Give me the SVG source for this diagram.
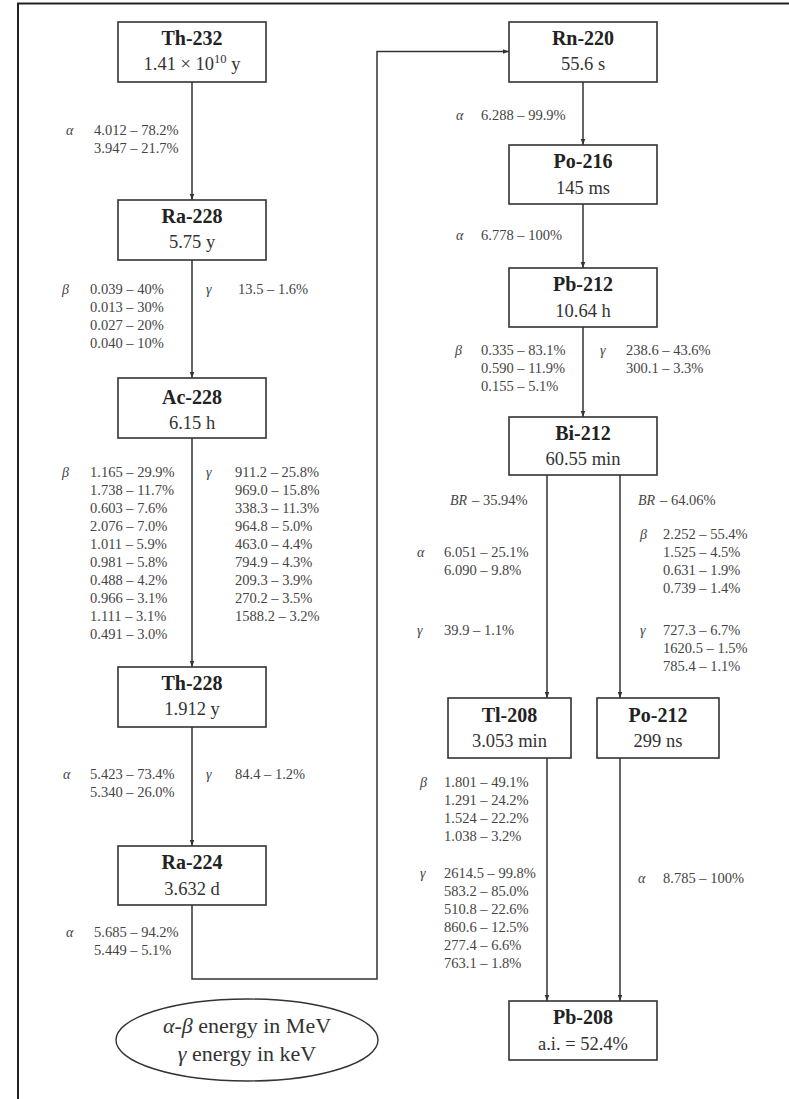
<svg xmlns="http://www.w3.org/2000/svg" width="789" height="1099" viewBox="0 0 789 1099">
<style>
.box{fill:#fff;stroke:#333;stroke-width:1.6}
.ttl{font-family:"Liberation Serif",serif;font-weight:bold;font-size:20px;fill:#222;text-anchor:middle}
.hl{font-family:"Liberation Serif",serif;font-size:18.5px;fill:#333;text-anchor:middle}
.lb{font-family:"Liberation Serif",serif;font-size:14.5px;fill:#444}
.gk{font-family:"Liberation Serif",serif;font-style:italic;font-size:14px;fill:#444}
.con{fill:none;stroke:#333;stroke-width:1.5}
.leg{font-family:"Liberation Serif",serif;font-size:22px;fill:#333;text-anchor:middle}
</style>
<defs>
<marker id="ah" viewBox="0 0 8 8" refX="8" refY="4" markerWidth="6" markerHeight="6" orient="auto" markerUnits="userSpaceOnUse">
<path d="M0,1 L8,4 L0,7 z" fill="#333"/>
</marker>
</defs>
<rect width="789" height="1099" fill="#fff"/>
<path d="M18,1099 V3.5 H789" fill="none" stroke="#222" stroke-width="2"/>

<g id="connectors">
<path class="con" d="M192,82 V200" marker-end="url(#ah)"/>
<path class="con" d="M192,260 V378" marker-end="url(#ah)"/>
<path class="con" d="M192,438 V667" marker-end="url(#ah)"/>
<path class="con" d="M192,727 V846" marker-end="url(#ah)"/>
<path class="con" d="M192,905 V979 H377 V51.5 H509" marker-end="url(#ah)"/>
<path class="con" d="M583,82 V145" marker-end="url(#ah)"/>
<path class="con" d="M583,204 V268" marker-end="url(#ah)"/>
<path class="con" d="M583,327 V417" marker-end="url(#ah)"/>
<path class="con" d="M547,475 V698" marker-end="url(#ah)"/>
<path class="con" d="M620,475 V698" marker-end="url(#ah)"/>
<path class="con" d="M547,758 V1001" marker-end="url(#ah)"/>
<path class="con" d="M620,758 V1001" marker-end="url(#ah)"/>
</g>

<g id="th232">
<rect class="box" x="118" y="22" width="148" height="60"/>
<text class="ttl" x="192" y="45">Th-232</text>
<text class="hl" x="192" y="70">1.41 × 10<tspan font-size="12.5" dy="-7">10</tspan><tspan dy="7"> y</tspan></text>
</g>
<g id="ra228">
<rect class="box" x="118" y="200" width="148" height="60"/>
<text class="ttl" x="192" y="223">Ra-228</text>
<text class="hl" x="192" y="248">5.75 y</text>
</g>
<g id="ac228">
<rect class="box" x="118" y="378" width="148" height="60"/>
<text class="ttl" x="192" y="404">Ac-228</text>
<text class="hl" x="192" y="429">6.15 h</text>
</g>
<g id="th228">
<rect class="box" x="118" y="667" width="148" height="60"/>
<text class="ttl" x="192" y="690">Th-228</text>
<text class="hl" x="192" y="715">1.912 y</text>
</g>
<g id="ra224">
<rect class="box" x="118" y="846" width="148" height="59"/>
<text class="ttl" x="192" y="869">Ra-224</text>
<text class="hl" x="192" y="895">3.632 d</text>
</g>
<g id="rn220">
<rect class="box" x="509" y="22" width="148" height="60"/>
<text class="ttl" x="583" y="45">Rn-220</text>
<text class="hl" x="583" y="70">55.6 s</text>
</g>
<g id="po216">
<rect class="box" x="509" y="145" width="148" height="59"/>
<text class="ttl" x="583" y="168">Po-216</text>
<text class="hl" x="583" y="194">145 ms</text>
</g>
<g id="pb212">
<rect class="box" x="509" y="268" width="148" height="59"/>
<text class="ttl" x="583" y="291">Pb-212</text>
<text class="hl" x="583" y="317">10.64 h</text>
</g>
<g id="bi212">
<rect class="box" x="509" y="417" width="148" height="58"/>
<text class="ttl" x="583" y="440">Bi-212</text>
<text class="hl" x="583" y="465">60.55 min</text>
</g>
<g id="tl208">
<rect class="box" x="448" y="698" width="123" height="60"/>
<text class="ttl" x="509.5" y="722">Tl-208</text>
<text class="hl" x="509.5" y="747">3.053 min</text>
</g>
<g id="po212">
<rect class="box" x="597" y="698" width="122" height="60"/>
<text class="ttl" x="658" y="722">Po-212</text>
<text class="hl" x="658" y="747">299 ns</text>
</g>
<g id="pb208">
<rect class="box" x="509" y="1001" width="148" height="59"/>
<text class="ttl" x="583" y="1024">Pb-208</text>
<text class="hl" x="583" y="1050">a.i. = 52.4%</text>
</g>

<g id="labels">
<text class="gk" x="66" y="135">α</text>
<text class="lb" x="94" y="135">4.012 – 78.2%</text>
<text class="lb" x="94" y="153">3.947 – 21.7%</text>

<text class="gk" x="62" y="294">β</text>
<text class="lb" x="90" y="294">0.039 – 40%</text>
<text class="lb" x="90" y="312">0.013 – 30%</text>
<text class="lb" x="90" y="330">0.027 – 20%</text>
<text class="lb" x="90" y="348">0.040 – 10%</text>
<text class="gk" x="206" y="294">γ</text>
<text class="lb" x="238" y="294">13.5 – 1.6%</text>

<text class="gk" x="62" y="477">β</text>
<text class="lb" x="90" y="477">1.165 – 29.9%</text>
<text class="lb" x="90" y="495">1.738 – 11.7%</text>
<text class="lb" x="90" y="513">0.603 – 7.6%</text>
<text class="lb" x="90" y="531">2.076 – 7.0%</text>
<text class="lb" x="90" y="549">1.011 – 5.9%</text>
<text class="lb" x="90" y="567">0.981 – 5.8%</text>
<text class="lb" x="90" y="585">0.488 – 4.2%</text>
<text class="lb" x="90" y="603">0.966 – 3.1%</text>
<text class="lb" x="90" y="621">1.111 – 3.1%</text>
<text class="lb" x="90" y="639">0.491 – 3.0%</text>
<text class="gk" x="206" y="477">γ</text>
<text class="lb" x="235" y="477">911.2 – 25.8%</text>
<text class="lb" x="235" y="495">969.0 – 15.8%</text>
<text class="lb" x="235" y="513">338.3 – 11.3%</text>
<text class="lb" x="235" y="531">964.8 – 5.0%</text>
<text class="lb" x="235" y="549">463.0 – 4.4%</text>
<text class="lb" x="235" y="567">794.9 – 4.3%</text>
<text class="lb" x="235" y="585">209.3 – 3.9%</text>
<text class="lb" x="235" y="603">270.2 – 3.5%</text>
<text class="lb" x="235" y="621">1588.2 – 3.2%</text>

<text class="gk" x="63" y="779">α</text>
<text class="lb" x="90" y="779">5.423 – 73.4%</text>
<text class="lb" x="90" y="797">5.340 – 26.0%</text>
<text class="gk" x="206" y="779">γ</text>
<text class="lb" x="235" y="779">84.4 – 1.2%</text>

<text class="gk" x="66" y="937">α</text>
<text class="lb" x="94" y="937">5.685 – 94.2%</text>
<text class="lb" x="94" y="955">5.449 – 5.1%</text>

<text class="gk" x="456" y="120">α</text>
<text class="lb" x="481" y="120">6.288 – 99.9%</text>

<text class="gk" x="456" y="240">α</text>
<text class="lb" x="481" y="240">6.778 – 100%</text>

<text class="gk" x="455" y="355">β</text>
<text class="lb" x="481" y="355">0.335 – 83.1%</text>
<text class="lb" x="481" y="373">0.590 – 11.9%</text>
<text class="lb" x="481" y="391">0.155 – 5.1%</text>
<text class="gk" x="600" y="355">γ</text>
<text class="lb" x="626" y="355">238.6 – 43.6%</text>
<text class="lb" x="626" y="373">300.1 – 3.3%</text>

<text class="gk" x="450" y="505">BR</text>
<text class="lb" x="472" y="505">– 35.94%</text>
<text class="gk" x="638" y="505">BR</text>
<text class="lb" x="660" y="505">– 64.06%</text>

<text class="gk" x="417" y="557">α</text>
<text class="lb" x="444" y="557">6.051 – 25.1%</text>
<text class="lb" x="444" y="575">6.090 – 9.8%</text>
<text class="gk" x="417" y="635">γ</text>
<text class="lb" x="444" y="635">39.9 – 1.1%</text>

<text class="gk" x="640" y="539">β</text>
<text class="lb" x="663" y="539">2.252 – 55.4%</text>
<text class="lb" x="663" y="557">1.525 – 4.5%</text>
<text class="lb" x="663" y="575">0.631 – 1.9%</text>
<text class="lb" x="663" y="593">0.739 – 1.4%</text>
<text class="gk" x="640" y="635">γ</text>
<text class="lb" x="663" y="635">727.3 – 6.7%</text>
<text class="lb" x="663" y="653">1620.5 – 1.5%</text>
<text class="lb" x="663" y="671">785.4 – 1.1%</text>

<text class="gk" x="420" y="787">β</text>
<text class="lb" x="444" y="787">1.801 – 49.1%</text>
<text class="lb" x="444" y="805">1.291 – 24.2%</text>
<text class="lb" x="444" y="823">1.524 – 22.2%</text>
<text class="lb" x="444" y="841">1.038 – 3.2%</text>
<text class="gk" x="420" y="878">γ</text>
<text class="lb" x="444" y="878">2614.5 – 99.8%</text>
<text class="lb" x="444" y="896">583.2 – 85.0%</text>
<text class="lb" x="444" y="914">510.8 – 22.6%</text>
<text class="lb" x="444" y="932">860.6 – 12.5%</text>
<text class="lb" x="444" y="950">277.4 – 6.6%</text>
<text class="lb" x="444" y="968">763.1 – 1.8%</text>

<text class="gk" x="638" y="883">α</text>
<text class="lb" x="663" y="883">8.785 – 100%</text>
</g>

<g id="legend">
<ellipse cx="247" cy="1040" rx="131" ry="41" fill="#fff" stroke="#333" stroke-width="1.4"/>
<text class="leg" x="247" y="1033"><tspan font-style="italic">α</tspan>-<tspan font-style="italic">β</tspan> energy in MeV</text>
<text class="leg" x="247" y="1061"><tspan font-style="italic">γ</tspan> energy in keV</text>
</g>
</svg>
